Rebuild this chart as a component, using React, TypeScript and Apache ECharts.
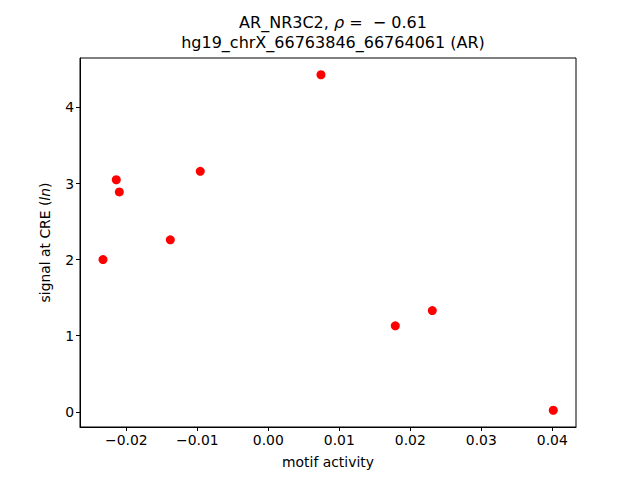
import React, { useEffect, useRef } from "react";
import * as echarts from "echarts";

const motifActivity = [-0.02328, -0.02141, -0.02098, -0.0138, -0.00958, 0.00742, 0.01789, 0.0231, 0.04014];
const signalAtCRE = [2.0, 3.05, 2.89, 2.26, 3.16, 4.43, 1.13, 1.33, 0.02];
const xTicks = [-0.02, -0.01, 0.0, 0.01, 0.02, 0.03, 0.04];
const yTicks = [0, 1, 2, 3, 4];
const titleLine1 = "AR_NR3C2, ";
const titleRho = "ρ";
const titleLine1b = " =  − 0.61";
const titleLine2 = "hg19_chrX_66763846_66764061 (AR)";

const FONT = "DejaVu Sans";

export default function App() {
  const ref = useRef<HTMLDivElement>(null);
  useEffect(() => {
    if (!ref.current) return;
    const chart = echarts.init(ref.current, null, { renderer: "svg" });
    const fmtX = (v: number) => {
      const s = Math.abs(v).toFixed(2);
      return v < -1e-9 ? "\u2212" + s : s;
    };
    chart.setOption({
      animation: false,
      backgroundColor: "#ffffff",
      textStyle: { fontFamily: FONT },
      title: {
        text: `{n|${titleLine1}}{i|${titleRho}}{n|${titleLine1b}}\n{n|${titleLine2}}`,
        left: 328,
        top: 7,
        textAlign: "center",
        textStyle: {
          fontWeight: "normal",
          rich: {
            n: { fontFamily: FONT, fontSize: 16, color: "#000", lineHeight: 20, fontWeight: "normal" },
            i: { fontFamily: FONT, fontSize: 16, color: "#000", fontStyle: "italic", lineHeight: 20, fontWeight: "normal" },
          },
        },
      },
      grid: {
        left: 80,
        right: 64,
        top: 58,
        bottom: 53,
        show: true,
        borderColor: "#000",
        borderWidth: 1,
        backgroundColor: "transparent",
      },
      xAxis: {
        type: "value",
        min: -0.02652,
        max: 0.04334,
        name: "motif activity",
        nameLocation: "middle",
        nameGap: 28,
        nameTextStyle: { fontFamily: FONT, fontSize: 13.9, color: "#000" },
        splitLine: { show: false },
        axisLine: { show: true, onZero: false, lineStyle: { color: "#000", width: 1 } },
        axisTick: { show: true, inside: false, length: 4, customValues: xTicks, lineStyle: { color: "#000" } },
        axisLabel: {
          customValues: xTicks,
          formatter: fmtX,
          fontFamily: FONT,
          fontSize: 13.9,
          color: "#000",
          margin: 6,
          showMinLabel: true,
          showMaxLabel: true,
        },
      },
      yAxis: {
        type: "value",
        min: -0.2,
        max: 4.65,
        name: "{n|signal at CRE (}{i|ln}{n|)}",
        nameLocation: "middle",
        nameGap: 28,
        nameRotate: 90,
        nameTextStyle: {
          rich: {
            n: { fontFamily: FONT, fontSize: 13.9, color: "#000" },
            i: { fontFamily: FONT, fontSize: 13.9, color: "#000", fontStyle: "italic" },
          },
        },
        splitLine: { show: false },
        axisLine: { show: true, onZero: false, lineStyle: { color: "#000", width: 1 } },
        axisTick: { show: true, inside: false, length: 4, customValues: yTicks, lineStyle: { color: "#000" } },
        axisLabel: {
          customValues: yTicks,
          formatter: (v: number) => String(v),
          fontFamily: FONT,
          fontSize: 13.9,
          color: "#000",
          margin: 6,
        },
      },
      series: [
        {
          type: "scatter",
          data: motifActivity.map((x, i) => [x, signalAtCRE[i]]),
          symbol: "circle",
          symbolSize: 9,
          itemStyle: { color: "#ff0000", opacity: 1 },
        },
      ],
    });
    return () => chart.dispose();
  }, []);
  return <div ref={ref} style={{ width: 640, height: 480, margin: -8 }} />;
}
